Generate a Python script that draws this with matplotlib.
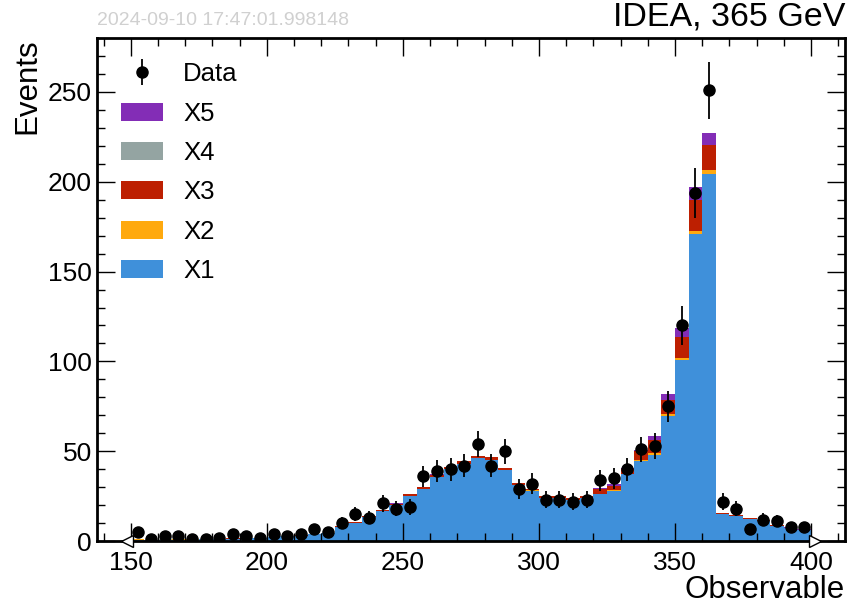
import numpy as np
import matplotlib

matplotlib.use("Agg")
import matplotlib.pyplot as plt
from matplotlib.patches import Patch

# bin edges of the observable (5 GeV bins from 150 to 400)
edges = np.arange(150, 405, 5)

# stacked background components, one value per bin
x1 = [0.9, 0.7, 0.8, 0.9, 0.9, 1.0, 1.2, 1.4, 1.6, 1.9, 2.2, 2.6, 3.0, 3.7, 4.5,
      7.9, 10.3, 13.3, 16.7, 20.0, 25.0, 29.0, 35.8, 39.9, 43.0, 46.0, 45.2, 39.4, 31.3, 28.1,
      24.0, 24.0, 23.0, 24.1, 26.2, 28.0, 37.2, 44.5, 48.0, 69.8, 100.8, 171.0, 204.5,
      15.1, 13.9, 12.5, 11.2, 8.5, 7.2, 6.2]
x2 = [0.02, 0.02, 0.02, 0.02, 0.02, 0.02, 0.02, 0.02, 0.02, 0.02, 0.02, 0.02, 0.02, 0.02, 0.02,
      0.05, 0.05, 0.05, 0.1, 0.1, 0.1, 0.1, 0.15, 0.15, 0.15, 0.15, 0.15, 0.15, 0.1, 0.1,
      0.1, 0.1, 0.1, 0.1, 0.2, 0.2, 0.3, 0.5, 0.8, 1.0, 1.2, 1.8, 1.8,
      0.05, 0.05, 0.05, 0.05, 0.05, 0.05, 0.05]
x3 = [0.08, 0.08, 0.08, 0.08, 0.08, 0.08, 0.08, 0.08, 0.08, 0.08, 0.08, 0.08, 0.15, 0.15, 0.25,
      0.3, 0.4, 0.5, 0.7, 0.8, 1.0, 1.1, 1.1, 1.2, 1.2, 1.3, 1.2, 1.1, 1.0, 0.9,
      0.8, 0.8, 0.8, 1.0, 2.7, 2.6, 2.6, 5.2, 7.5, 7.8, 11.4, 17.0, 14.0,
      0.6, 0.5, 0.4, 0.4, 0.3, 0.3, 0.2]
x4 = [0.01, 0.01, 0.01, 0.01, 0.01, 0.01, 0.01, 0.01, 0.01, 0.01, 0.01, 0.01, 0.01, 0.01, 0.01,
      0.01, 0.01, 0.01, 0.01, 0.01, 0.01, 0.01, 0.01, 0.01, 0.01, 0.01, 0.01, 0.01, 0.01, 0.01,
      0.01, 0.01, 0.01, 0.01, 0.02, 0.02, 0.02, 0.05, 0.05, 0.1, 0.1, 0.2, 0.2,
      0.01, 0.01, 0.01, 0.01, 0.01, 0.01, 0.01]
x5 = [0.0, 0.0, 0.0, 0.0, 0.0, 0.0, 0.0, 0.0, 0.0, 0.0, 0.0, 0.0, 0.0, 0.0, 0.0,
      0.0, 0.0, 0.0, 0.05, 0.05, 0.05, 0.05, 0.05, 0.05, 0.05, 0.05, 0.05, 0.05, 0.05, 0.05,
      0.1, 0.1, 0.1, 0.1, 0.6, 0.9, 0.4, 0.5, 2.2, 3.2, 5.0, 7.2, 6.4,
      0.05, 0.05, 0.05, 0.05, 0.05, 0.05, 0.05]

# observed events per bin
data = [5, 1, 3, 3, 1, 1, 2, 4, 3, 2, 4, 3, 4, 7, 5,
        10, 15, 13, 21, 18, 19, 36, 39, 40, 42, 54, 42, 50, 29, 32,
        23, 23, 22, 23, 34, 35, 40, 51, 53, 75, 120, 194, 251,
        22, 18, 7, 12, 11, 8, 8]

labels = ["X1", "X2", "X3", "X4", "X5"]
colors = ["#3f90da", "#ffa90e", "#bd1f01", "#94a4a2", "#832db6"]

plt.rcParams["font.family"] = ["Liberation Sans", "DejaVu Sans"]

fig = plt.figure(figsize=(8.57, 6.08), dpi=100)
ax = fig.add_axes([0.113, 0.110, 0.873, 0.8275])

bottom = np.zeros(len(x1))
for comp, color in zip([x1, x2, x3, x4, x5], colors):
    top = bottom + np.asarray(comp)
    ax.stairs(top, edges, baseline=bottom, fill=True, color=color, linewidth=0)
    bottom = top

centers = 0.5 * (edges[1:] + edges[:-1])
data_arr = np.asarray(data, dtype=float)
ax.errorbar(centers, data_arr, yerr=np.sqrt(data_arr), fmt="o", color="black",
            markersize=8, elinewidth=1.3, capsize=0, zorder=5)

# flow hint triangles at the histogram edges
ax.plot([edges[0] - 1.5], [0], marker="<", markersize=9, markerfacecolor="white",
        markeredgecolor="black", markeredgewidth=1, clip_on=False, zorder=6)
ax.plot([edges[-1] + 1.5], [0], marker=">", markersize=9, markerfacecolor="white",
        markeredgecolor="black", markeredgewidth=1, clip_on=False, zorder=6)

ax.set_xlim(137.5, 412.5)
ax.set_ylim(0, 280)
ax.set_xticks([150, 200, 250, 300, 350, 400])
ax.set_yticks([0, 50, 100, 150, 200, 250])
ax.set_xticks(np.arange(140, 420, 10), minor=True)
ax.set_yticks(np.arange(0, 280, 10), minor=True)
ax.tick_params(which="both", direction="in", top=True, right=True, labelsize=19)
ax.tick_params(which="major", length=13, width=1)
ax.tick_params(which="minor", length=6, width=1)
ax.tick_params(axis="x", pad=7)
for spine in ax.spines.values():
    spine.set_linewidth(2)

ax.set_xlabel("Observable", loc="right", fontsize=22.5, labelpad=0)
ax.set_ylabel("Events", loc="top", fontsize=22.5)

ax.text(1.0, 1.01, "IDEA, 365 GeV", transform=ax.transAxes, ha="right", va="bottom",
        fontsize=24.5)
ax.text(0.0, 1.018, "2024-09-10 17:47:01.998148", transform=ax.transAxes, ha="left",
        va="bottom", fontsize=14, color="#d0d0d0")

data_handle = ax.errorbar([], [], yerr=[], fmt="o", color="black", markersize=8,
                          elinewidth=1.3, capsize=0)
handles = [data_handle] + [Patch(facecolor=c) for c in colors[::-1]]
ax.legend(handles, ["Data"] + labels[::-1], loc="upper left", frameon=False,
          fontsize=18.5, handlelength=1.6, labelspacing=0.6,
          bbox_to_anchor=(0.002, 0.998))

fig.savefig("out.png", dpi=100)
